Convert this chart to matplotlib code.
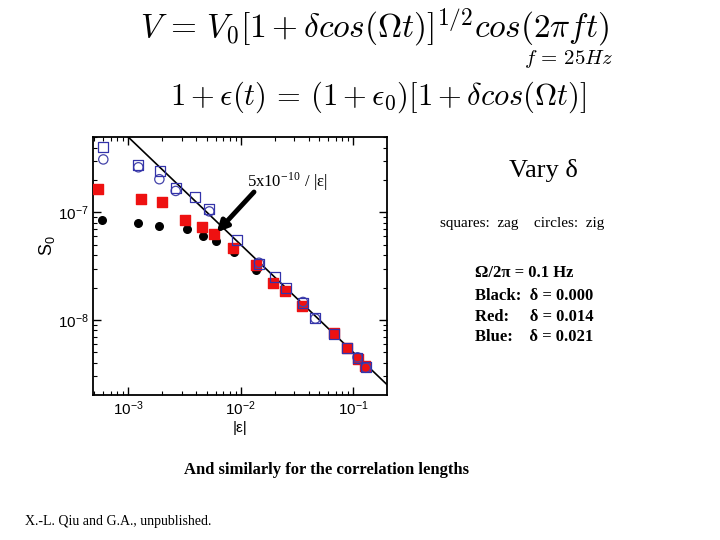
import matplotlib
matplotlib.use("Agg")
import matplotlib.pyplot as plt
import numpy as np

plt.rcParams['mathtext.fontset'] = 'cm'

# Data
black_eps = [5.87e-4, 1.21e-3, 1.89e-3, 3.31e-3, 4.64e-3, 6.01e-3, 8.63e-3, 1.37e-2,
             1.92e-2, 2.47e-2, 3.52e-2, 6.78e-2, 8.73e-2, 0.109, 0.128]
black_s0 = [8.43e-8, 7.9e-8, 7.46e-8, 7.0e-8, 5.99e-8, 5.42e-8, 4.28e-8, 2.91e-8,
            2.15e-8, 1.82e-8, 1.33e-8, 7.4e-9, 5.4e-9, 4.25e-9, 3.7e-9]

red_eps = [5.41e-4, 1.29e-3, 2.00e-3, 3.21e-3, 4.55e-3, 5.77e-3, 8.58e-3, 1.36e-2,
           1.92e-2, 2.47e-2, 3.52e-2, 6.78e-2, 8.73e-2, 0.109, 0.128]
red_s0 = [1.64e-7, 1.33e-7, 1.26e-7, 8.49e-8, 7.26e-8, 6.34e-8, 4.70e-8, 3.24e-8,
          2.21e-8, 1.86e-8, 1.36e-8, 7.52e-9, 5.46e-9, 4.31e-9, 3.74e-9]

blue_sq_eps = [6.0e-4, 1.23e-3, 1.91e-3, 2.64e-3, 3.92e-3, 5.25e-3, 9.25e-3, 1.45e-2,
               2.00e-2, 2.51e-2, 3.57e-2, 4.60e-2, 6.73e-2, 8.85e-2, 0.109, 0.129]
blue_sq_s0 = [4.07e-7, 2.77e-7, 2.40e-7, 1.67e-7, 1.40e-7, 1.08e-7, 5.53e-8, 3.31e-8,
              2.52e-8, 1.97e-8, 1.43e-8, 1.05e-8, 7.36e-9, 5.53e-9, 4.41e-9, 3.69e-9]

blue_ci_eps = [6.0e-4, 1.23e-3, 1.89e-3, 2.64e-3, 5.25e-3, 1.45e-2, 3.57e-2, 4.60e-2, 0.109, 0.129]
blue_ci_s0 = [3.1e-7, 2.62e-7, 2.03e-7, 1.58e-7, 1.02e-7, 3.4e-8, 1.47e-8, 1.03e-8, 4.5e-9, 3.6e-9]

line_amp = 5e-10
line_eps = [1e-3, 0.2]

fig = plt.figure(figsize=(7.2, 5.4), dpi=100)

def fx(px):
    return px / 720.0

def fy(py):
    return 1 - py / 540.0

ax = fig.add_axes([fx(93.3), fy(395), fx(386.7) - fx(93.3), fy(136.7) - fy(395)])
ax.set_xscale('log')
ax.set_yscale('log')
ax.set_xlim(4.89e-4, 0.198)
ax.set_ylim(2.01e-9, 5.04e-7)

le = np.array(line_eps)
ax.plot(le, line_amp / le, color='black', lw=1.2, zorder=1)

ax.scatter(black_eps, black_s0, s=30, marker='o', color='black', zorder=2)
ax.scatter(red_eps, red_s0, s=60, marker='s', color='#ee1111', edgecolors='#ee1111', zorder=3)
ax.scatter(blue_ci_eps, blue_ci_s0, s=45, marker='o', facecolors='none',
           edgecolors='#4444aa', linewidths=0.9, zorder=4)
ax.scatter(blue_sq_eps, blue_sq_s0, s=50, marker='s', facecolors='none',
           edgecolors='#3333aa', linewidths=0.9, zorder=5)

for sp in ax.spines.values():
    sp.set_linewidth(1.3)
ax.tick_params(which='both', direction='in', top=True, right=True)
ax.tick_params(which='major', length=6, width=1, labelsize=11)
ax.tick_params(which='minor', length=3, width=0.8)
for lab in ax.get_xticklabels() + ax.get_yticklabels():
    lab.set_family('Liberation Sans')
ax.set_xlabel(r'|ε|', fontsize=11, family='Liberation Sans', labelpad=2)
ax.set_ylabel(r'S$_\mathregular{0}$', fontsize=13, family='Liberation Sans')
ax.yaxis.set_label_coords(-0.12, 0.58)

# Annotation: text and thick arrow
fig.text(fx(247), fy(182), r'5x10$^{\mathregular{-10}}$ / |ε|', fontsize=12,
         family='Liberation Serif', ha='left', va='center')
ax.annotate('', xy=(6.1e-3, 6.5e-8), xytext=(254, 540 - 192),
            textcoords='figure pixels',
            arrowprops=dict(arrowstyle='-|>', color='black', lw=3.5,
                            mutation_scale=16, shrinkA=0, shrinkB=0),
            zorder=10)

# Header equations
fig.text(fx(375), fy(27), r'$V\,=\,V_0[1+\delta cos(\Omega t)]^{1/2}cos(2\pi ft)$',
         fontsize=24, ha='center', va='center')
fig.text(fx(614), fy(59), r'$f\,=\,25Hz$', fontsize=15, ha='right', va='center')
fig.text(fx(378), fy(97), r'$1+\epsilon(t)\,=\,(1+\epsilon_0)[1+\delta cos(\Omega t)]$',
         fontsize=22, ha='center', va='center')

fig.text(fx(543), fy(170), 'Vary δ', fontsize=19, family='Liberation Serif',
         ha='center', va='center')
fig.text(fx(522), fy(224), 'squares:  zag    circles:  zig', fontsize=11,
         family='Liberation Serif', ha='center', va='center')

info_lines = ['Ω/2π = 0.1 Hz', 'Black:  δ = 0.000', 'Red:     δ = 0.014', 'Blue:    δ = 0.021']
info_y = [273, 296, 317, 337]
for t, y in zip(info_lines, info_y):
    fig.text(fx(475), fy(y), t, fontsize=12, family='Liberation Serif',
             fontweight='bold', ha='left', va='center')

fig.text(fx(326), fy(470), 'And similarly for the correlation lengths', fontsize=12,
         family='Liberation Serif', fontweight='bold', ha='center', va='center')
fig.text(fx(25), fy(521), 'X.-L. Qiu and G.A., unpublished.', fontsize=10,
         family='Liberation Serif', ha='left', va='center')

fig.savefig('out.png', dpi=100)
